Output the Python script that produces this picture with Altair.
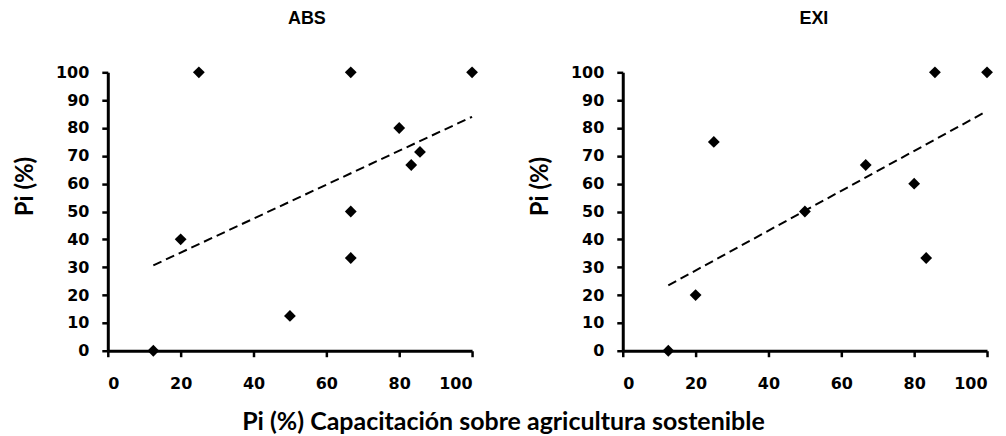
import altair as alt
import pandas as pd

abs_x = [12.5, 20, 25, 50, 66.7, 66.7, 66.7, 80, 83.3, 85.7, 100]
abs_y = [0, 40, 100, 12.5, 100, 50, 33.3, 80, 66.7, 71.4, 100]
exi_x = [12.5, 20, 25, 50, 66.7, 80, 83.3, 85.7, 100]
exi_y = [0, 20, 75, 50, 66.7, 60, 33.3, 100, 100]
x_ticks = [0, 20, 40, 60, 80, 100]
y_ticks = [0, 10, 20, 30, 40, 50, 60, 70, 80, 90, 100]

y_title = "Pi (%)"
x_title = "Pi (%) Capacitación sobre agricultura sostenible"

W, H = 365, 279


def panel(xs, ys, name, dx):
    df = pd.DataFrame({"x": xs, "y": ys})
    xax = alt.Axis(values=x_ticks, title=None, grid=False,
                   domainColor="black", domainWidth=3,
                   tickColor="black", tickWidth=2.5, tickSize=6,
                   labelFont="DejaVu Sans", labelFontWeight="bold",
                   labelFontSize=16, labelColor="black", labelPadding=19,
                   labelOverlap=False)
    yax = alt.Axis(values=y_ticks, title=y_title, grid=False,
                   domainColor="black", domainWidth=3,
                   tickColor="black", tickWidth=2.5, tickSize=6,
                   labelFont="DejaVu Sans", labelFontWeight="bold",
                   labelFontSize=16, labelColor="black", labelPadding=13,
                   labelOverlap=False,
                   titleFont="Lato", titleFontSize=24, titleFontWeight="bold",
                   titleColor="black", titleX=-82, titleY=114,
                   titleBaseline="middle", titleAlign="center", titleAngle=270)
    xs_ = alt.Scale(domain=[0, 100], nice=False)
    ys_ = alt.Scale(domain=[0, 100], nice=False)
    base = alt.Chart(df)
    pts = base.mark_point(shape="diamond", filled=True, color="black",
                          size=140, opacity=1).encode(
        x=alt.X("x:Q", scale=xs_, axis=xax),
        y=alt.Y("y:Q", scale=ys_, axis=yax),
    )
    line = base.transform_regression("x", "y").mark_line(
        color="black", strokeWidth=2, strokeDash=[9, 5]).encode(
        x=alt.X("x:Q", scale=xs_, axis=xax),
        y=alt.Y("y:Q", scale=ys_, axis=yax),
    )
    return alt.layer(line, pts).properties(
        width=W, height=H,
        title=alt.TitleParams(name, font="Liberation Sans", fontSize=18,
                              fontWeight="bold", color="black", offset=36,
                              dx=dx),
    )


left = panel(abs_x, abs_y, "ABS", 17)
right = panel(exi_x, exi_y, "EXI", 9)

chart = alt.hconcat(left, right, spacing=51).properties(
    title=alt.TitleParams(x_title, orient="bottom", anchor="middle",
                          font="Lato", fontSize=25,
                          fontWeight="bold", color="black", offset=18),
    padding={"left": 6, "top": 2, "right": 5, "bottom": 0},
).configure_view(stroke=None)

chart.save("out.html", embed_options={"renderer": "svg", "actions": False})
